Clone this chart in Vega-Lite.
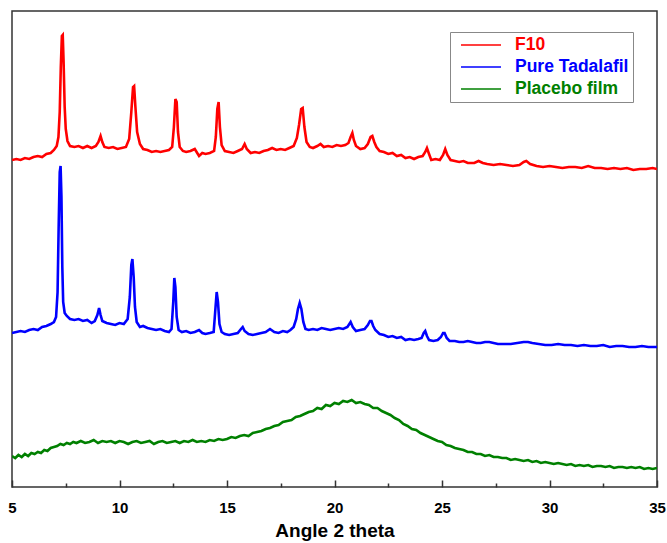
{
  "$schema": "https://vega.github.io/schema/vega-lite/v6.json",
  "width": 645,
  "height": 476,
  "autosize": {"type": "none"},
  "padding": {"left": 12, "top": 11, "right": 10, "bottom": 56},
  "background": "white",
  "config": {
    "view": {"stroke": "#333333", "strokeWidth": 1.5},
    "font": "Liberation Sans"
  },
  "data": {
    "values": [
      {"s":"F10","x":5.0,"y":327},{"s":"F10","x":5.2,"y":328},{"s":"F10","x":5.4,"y":327},{"s":"F10","x":5.6,"y":329},{"s":"F10","x":5.8,"y":328},{"s":"F10","x":6.0,"y":330},{"s":"F10","x":6.2,"y":331},{"s":"F10","x":6.4,"y":330},{"s":"F10","x":6.6,"y":333},{"s":"F10","x":6.8,"y":334},{"s":"F10","x":6.95,"y":337},{"s":"F10","x":7.08,"y":341},{"s":"F10","x":7.16,"y":350},{"s":"F10","x":7.22,"y":375},{"s":"F10","x":7.27,"y":420},{"s":"F10","x":7.32,"y":451},{"s":"F10","x":7.36,"y":452},{"s":"F10","x":7.4,"y":425},{"s":"F10","x":7.45,"y":380},{"s":"F10","x":7.5,"y":358},{"s":"F10","x":7.58,"y":346},{"s":"F10","x":7.7,"y":341},{"s":"F10","x":7.9,"y":340},{"s":"F10","x":8.1,"y":341},{"s":"F10","x":8.3,"y":339},{"s":"F10","x":8.5,"y":341},{"s":"F10","x":8.7,"y":339},{"s":"F10","x":8.9,"y":341},{"s":"F10","x":9.02,"y":345},{"s":"F10","x":9.12,"y":351},{"s":"F10","x":9.2,"y":345},{"s":"F10","x":9.3,"y":340},{"s":"F10","x":9.5,"y":339},{"s":"F10","x":9.7,"y":340},{"s":"F10","x":9.9,"y":338},{"s":"F10","x":10.1,"y":339},{"s":"F10","x":10.3,"y":340},{"s":"F10","x":10.45,"y":348},{"s":"F10","x":10.55,"y":375},{"s":"F10","x":10.63,"y":400},{"s":"F10","x":10.68,"y":401},{"s":"F10","x":10.74,"y":380},{"s":"F10","x":10.82,"y":355},{"s":"F10","x":10.95,"y":343},{"s":"F10","x":11.1,"y":338},{"s":"F10","x":11.3,"y":337},{"s":"F10","x":11.5,"y":335},{"s":"F10","x":11.7,"y":336},{"s":"F10","x":11.9,"y":335},{"s":"F10","x":12.1,"y":336},{"s":"F10","x":12.3,"y":337},{"s":"F10","x":12.45,"y":340},{"s":"F10","x":12.53,"y":360},{"s":"F10","x":12.6,"y":388},{"s":"F10","x":12.66,"y":385},{"s":"F10","x":12.72,"y":355},{"s":"F10","x":12.8,"y":340},{"s":"F10","x":12.95,"y":336},{"s":"F10","x":13.1,"y":335},{"s":"F10","x":13.3,"y":336},{"s":"F10","x":13.5,"y":338},{"s":"F10","x":13.7,"y":331},{"s":"F10","x":13.85,"y":334},{"s":"F10","x":14.0,"y":333},{"s":"F10","x":14.2,"y":334},{"s":"F10","x":14.4,"y":336},{"s":"F10","x":14.48,"y":350},{"s":"F10","x":14.55,"y":378},{"s":"F10","x":14.61,"y":385},{"s":"F10","x":14.67,"y":360},{"s":"F10","x":14.75,"y":342},{"s":"F10","x":14.9,"y":336},{"s":"F10","x":15.1,"y":335},{"s":"F10","x":15.3,"y":334},{"s":"F10","x":15.5,"y":336},{"s":"F10","x":15.7,"y":338},{"s":"F10","x":15.82,"y":343},{"s":"F10","x":15.92,"y":338},{"s":"F10","x":16.1,"y":334},{"s":"F10","x":16.3,"y":335},{"s":"F10","x":16.5,"y":334},{"s":"F10","x":16.7,"y":336},{"s":"F10","x":16.9,"y":337},{"s":"F10","x":17.1,"y":339},{"s":"F10","x":17.3,"y":337},{"s":"F10","x":17.5,"y":338},{"s":"F10","x":17.7,"y":337},{"s":"F10","x":17.9,"y":339},{"s":"F10","x":18.1,"y":341},{"s":"F10","x":18.25,"y":349},{"s":"F10","x":18.35,"y":362},{"s":"F10","x":18.45,"y":378},{"s":"F10","x":18.52,"y":379},{"s":"F10","x":18.6,"y":360},{"s":"F10","x":18.7,"y":345},{"s":"F10","x":18.85,"y":340},{"s":"F10","x":19.0,"y":339},{"s":"F10","x":19.2,"y":341},{"s":"F10","x":19.35,"y":343},{"s":"F10","x":19.5,"y":340},{"s":"F10","x":19.7,"y":341},{"s":"F10","x":19.9,"y":340},{"s":"F10","x":20.1,"y":342},{"s":"F10","x":20.3,"y":341},{"s":"F10","x":20.5,"y":342},{"s":"F10","x":20.65,"y":344},{"s":"F10","x":20.75,"y":350},{"s":"F10","x":20.83,"y":354},{"s":"F10","x":20.9,"y":347},{"s":"F10","x":21.0,"y":341},{"s":"F10","x":21.2,"y":338},{"s":"F10","x":21.4,"y":339},{"s":"F10","x":21.55,"y":343},{"s":"F10","x":21.68,"y":350},{"s":"F10","x":21.76,"y":351},{"s":"F10","x":21.85,"y":345},{"s":"F10","x":21.95,"y":340},{"s":"F10","x":22.1,"y":336},{"s":"F10","x":22.3,"y":335},{"s":"F10","x":22.5,"y":333},{"s":"F10","x":22.7,"y":334},{"s":"F10","x":22.9,"y":331},{"s":"F10","x":23.1,"y":332},{"s":"F10","x":23.3,"y":329},{"s":"F10","x":23.5,"y":330},{"s":"F10","x":23.7,"y":328},{"s":"F10","x":23.9,"y":330},{"s":"F10","x":24.1,"y":331},{"s":"F10","x":24.22,"y":335},{"s":"F10","x":24.3,"y":339},{"s":"F10","x":24.38,"y":334},{"s":"F10","x":24.5,"y":327},{"s":"F10","x":24.7,"y":328},{"s":"F10","x":24.9,"y":327},{"s":"F10","x":25.05,"y":332},{"s":"F10","x":25.15,"y":338},{"s":"F10","x":25.25,"y":332},{"s":"F10","x":25.4,"y":327},{"s":"F10","x":25.6,"y":326},{"s":"F10","x":25.8,"y":325},{"s":"F10","x":26.0,"y":326},{"s":"F10","x":26.2,"y":324},{"s":"F10","x":26.5,"y":324},{"s":"F10","x":26.7,"y":326},{"s":"F10","x":26.9,"y":324},{"s":"F10","x":27.1,"y":323},{"s":"F10","x":27.4,"y":322},{"s":"F10","x":27.7,"y":323},{"s":"F10","x":28.0,"y":322},{"s":"F10","x":28.3,"y":321},{"s":"F10","x":28.6,"y":322},{"s":"F10","x":28.8,"y":325},{"s":"F10","x":28.92,"y":326},{"s":"F10","x":29.1,"y":323},{"s":"F10","x":29.4,"y":321},{"s":"F10","x":29.7,"y":320},{"s":"F10","x":30.0,"y":321},{"s":"F10","x":30.3,"y":320},{"s":"F10","x":30.6,"y":319},{"s":"F10","x":30.9,"y":320},{"s":"F10","x":31.2,"y":320},{"s":"F10","x":31.5,"y":319},{"s":"F10","x":31.8,"y":321},{"s":"F10","x":32.1,"y":319},{"s":"F10","x":32.4,"y":319},{"s":"F10","x":32.7,"y":318},{"s":"F10","x":33.0,"y":319},{"s":"F10","x":33.3,"y":318},{"s":"F10","x":33.6,"y":319},{"s":"F10","x":33.9,"y":317},{"s":"F10","x":34.2,"y":318},{"s":"F10","x":34.5,"y":318},{"s":"F10","x":34.8,"y":319},{"s":"F10","x":35.0,"y":318},

      {"s":"Pure Tadalafil","x":5.0,"y":154},{"s":"Pure Tadalafil","x":5.2,"y":155},{"s":"Pure Tadalafil","x":5.4,"y":156},{"s":"Pure Tadalafil","x":5.6,"y":155},{"s":"Pure Tadalafil","x":5.8,"y":157},{"s":"Pure Tadalafil","x":6.0,"y":158},{"s":"Pure Tadalafil","x":6.2,"y":157},{"s":"Pure Tadalafil","x":6.4,"y":160},{"s":"Pure Tadalafil","x":6.6,"y":161},{"s":"Pure Tadalafil","x":6.8,"y":163},{"s":"Pure Tadalafil","x":6.95,"y":165},{"s":"Pure Tadalafil","x":7.05,"y":170},{"s":"Pure Tadalafil","x":7.12,"y":195},{"s":"Pure Tadalafil","x":7.17,"y":260},{"s":"Pure Tadalafil","x":7.22,"y":315},{"s":"Pure Tadalafil","x":7.26,"y":321},{"s":"Pure Tadalafil","x":7.3,"y":290},{"s":"Pure Tadalafil","x":7.34,"y":220},{"s":"Pure Tadalafil","x":7.38,"y":185},{"s":"Pure Tadalafil","x":7.45,"y":174},{"s":"Pure Tadalafil","x":7.55,"y":171},{"s":"Pure Tadalafil","x":7.7,"y":168},{"s":"Pure Tadalafil","x":7.9,"y":167},{"s":"Pure Tadalafil","x":8.1,"y":168},{"s":"Pure Tadalafil","x":8.3,"y":166},{"s":"Pure Tadalafil","x":8.5,"y":167},{"s":"Pure Tadalafil","x":8.7,"y":164},{"s":"Pure Tadalafil","x":8.85,"y":166},{"s":"Pure Tadalafil","x":8.97,"y":172},{"s":"Pure Tadalafil","x":9.05,"y":179},{"s":"Pure Tadalafil","x":9.12,"y":172},{"s":"Pure Tadalafil","x":9.2,"y":166},{"s":"Pure Tadalafil","x":9.4,"y":164},{"s":"Pure Tadalafil","x":9.6,"y":163},{"s":"Pure Tadalafil","x":9.8,"y":162},{"s":"Pure Tadalafil","x":10.0,"y":164},{"s":"Pure Tadalafil","x":10.2,"y":163},{"s":"Pure Tadalafil","x":10.38,"y":168},{"s":"Pure Tadalafil","x":10.48,"y":190},{"s":"Pure Tadalafil","x":10.55,"y":222},{"s":"Pure Tadalafil","x":10.6,"y":228},{"s":"Pure Tadalafil","x":10.66,"y":210},{"s":"Pure Tadalafil","x":10.72,"y":180},{"s":"Pure Tadalafil","x":10.8,"y":165},{"s":"Pure Tadalafil","x":10.95,"y":160},{"s":"Pure Tadalafil","x":11.1,"y":161},{"s":"Pure Tadalafil","x":11.3,"y":159},{"s":"Pure Tadalafil","x":11.5,"y":158},{"s":"Pure Tadalafil","x":11.7,"y":157},{"s":"Pure Tadalafil","x":11.9,"y":158},{"s":"Pure Tadalafil","x":12.1,"y":156},{"s":"Pure Tadalafil","x":12.3,"y":155},{"s":"Pure Tadalafil","x":12.42,"y":158},{"s":"Pure Tadalafil","x":12.5,"y":185},{"s":"Pure Tadalafil","x":12.55,"y":209},{"s":"Pure Tadalafil","x":12.6,"y":200},{"s":"Pure Tadalafil","x":12.66,"y":170},{"s":"Pure Tadalafil","x":12.75,"y":157},{"s":"Pure Tadalafil","x":12.9,"y":155},{"s":"Pure Tadalafil","x":13.1,"y":156},{"s":"Pure Tadalafil","x":13.3,"y":154},{"s":"Pure Tadalafil","x":13.5,"y":155},{"s":"Pure Tadalafil","x":13.7,"y":157},{"s":"Pure Tadalafil","x":13.85,"y":154},{"s":"Pure Tadalafil","x":14.0,"y":153},{"s":"Pure Tadalafil","x":14.2,"y":154},{"s":"Pure Tadalafil","x":14.38,"y":155},{"s":"Pure Tadalafil","x":14.45,"y":175},{"s":"Pure Tadalafil","x":14.52,"y":195},{"s":"Pure Tadalafil","x":14.58,"y":185},{"s":"Pure Tadalafil","x":14.65,"y":163},{"s":"Pure Tadalafil","x":14.75,"y":155},{"s":"Pure Tadalafil","x":14.9,"y":153},{"s":"Pure Tadalafil","x":15.1,"y":152},{"s":"Pure Tadalafil","x":15.3,"y":153},{"s":"Pure Tadalafil","x":15.5,"y":154},{"s":"Pure Tadalafil","x":15.65,"y":158},{"s":"Pure Tadalafil","x":15.73,"y":160},{"s":"Pure Tadalafil","x":15.82,"y":156},{"s":"Pure Tadalafil","x":16.0,"y":153},{"s":"Pure Tadalafil","x":16.2,"y":152},{"s":"Pure Tadalafil","x":16.4,"y":153},{"s":"Pure Tadalafil","x":16.6,"y":154},{"s":"Pure Tadalafil","x":16.8,"y":155},{"s":"Pure Tadalafil","x":17.0,"y":158},{"s":"Pure Tadalafil","x":17.2,"y":155},{"s":"Pure Tadalafil","x":17.4,"y":154},{"s":"Pure Tadalafil","x":17.6,"y":156},{"s":"Pure Tadalafil","x":17.8,"y":155},{"s":"Pure Tadalafil","x":17.95,"y":157},{"s":"Pure Tadalafil","x":18.1,"y":160},{"s":"Pure Tadalafil","x":18.22,"y":168},{"s":"Pure Tadalafil","x":18.3,"y":178},{"s":"Pure Tadalafil","x":18.38,"y":184},{"s":"Pure Tadalafil","x":18.46,"y":178},{"s":"Pure Tadalafil","x":18.55,"y":165},{"s":"Pure Tadalafil","x":18.65,"y":158},{"s":"Pure Tadalafil","x":18.8,"y":157},{"s":"Pure Tadalafil","x":19.0,"y":158},{"s":"Pure Tadalafil","x":19.2,"y":157},{"s":"Pure Tadalafil","x":19.4,"y":159},{"s":"Pure Tadalafil","x":19.6,"y":158},{"s":"Pure Tadalafil","x":19.8,"y":157},{"s":"Pure Tadalafil","x":20.0,"y":158},{"s":"Pure Tadalafil","x":20.2,"y":159},{"s":"Pure Tadalafil","x":20.4,"y":158},{"s":"Pure Tadalafil","x":20.6,"y":160},{"s":"Pure Tadalafil","x":20.75,"y":165},{"s":"Pure Tadalafil","x":20.85,"y":160},{"s":"Pure Tadalafil","x":21.0,"y":156},{"s":"Pure Tadalafil","x":21.2,"y":157},{"s":"Pure Tadalafil","x":21.4,"y":158},{"s":"Pure Tadalafil","x":21.55,"y":162},{"s":"Pure Tadalafil","x":21.65,"y":166},{"s":"Pure Tadalafil","x":21.72,"y":166},{"s":"Pure Tadalafil","x":21.8,"y":161},{"s":"Pure Tadalafil","x":21.9,"y":157},{"s":"Pure Tadalafil","x":22.1,"y":153},{"s":"Pure Tadalafil","x":22.3,"y":152},{"s":"Pure Tadalafil","x":22.5,"y":150},{"s":"Pure Tadalafil","x":22.7,"y":151},{"s":"Pure Tadalafil","x":22.9,"y":149},{"s":"Pure Tadalafil","x":23.1,"y":150},{"s":"Pure Tadalafil","x":23.3,"y":147},{"s":"Pure Tadalafil","x":23.5,"y":148},{"s":"Pure Tadalafil","x":23.7,"y":147},{"s":"Pure Tadalafil","x":23.9,"y":148},{"s":"Pure Tadalafil","x":24.05,"y":149},{"s":"Pure Tadalafil","x":24.15,"y":154},{"s":"Pure Tadalafil","x":24.22,"y":156},{"s":"Pure Tadalafil","x":24.3,"y":151},{"s":"Pure Tadalafil","x":24.4,"y":147},{"s":"Pure Tadalafil","x":24.6,"y":146},{"s":"Pure Tadalafil","x":24.8,"y":147},{"s":"Pure Tadalafil","x":24.95,"y":150},{"s":"Pure Tadalafil","x":25.05,"y":154},{"s":"Pure Tadalafil","x":25.12,"y":154},{"s":"Pure Tadalafil","x":25.22,"y":149},{"s":"Pure Tadalafil","x":25.35,"y":146},{"s":"Pure Tadalafil","x":25.6,"y":146},{"s":"Pure Tadalafil","x":25.8,"y":145},{"s":"Pure Tadalafil","x":26.0,"y":145},{"s":"Pure Tadalafil","x":26.2,"y":146},{"s":"Pure Tadalafil","x":26.4,"y":145},{"s":"Pure Tadalafil","x":26.6,"y":144},{"s":"Pure Tadalafil","x":26.8,"y":144},{"s":"Pure Tadalafil","x":27.0,"y":145},{"s":"Pure Tadalafil","x":27.2,"y":145},{"s":"Pure Tadalafil","x":27.4,"y":144},{"s":"Pure Tadalafil","x":27.6,"y":143},{"s":"Pure Tadalafil","x":27.9,"y":143},{"s":"Pure Tadalafil","x":28.2,"y":143},{"s":"Pure Tadalafil","x":28.5,"y":144},{"s":"Pure Tadalafil","x":28.8,"y":145},{"s":"Pure Tadalafil","x":29.0,"y":145},{"s":"Pure Tadalafil","x":29.2,"y":144},{"s":"Pure Tadalafil","x":29.5,"y":143},{"s":"Pure Tadalafil","x":29.8,"y":142},{"s":"Pure Tadalafil","x":30.1,"y":142},{"s":"Pure Tadalafil","x":30.4,"y":143},{"s":"Pure Tadalafil","x":30.7,"y":142},{"s":"Pure Tadalafil","x":31.0,"y":142},{"s":"Pure Tadalafil","x":31.3,"y":141},{"s":"Pure Tadalafil","x":31.6,"y":142},{"s":"Pure Tadalafil","x":31.9,"y":141},{"s":"Pure Tadalafil","x":32.2,"y":141},{"s":"Pure Tadalafil","x":32.5,"y":142},{"s":"Pure Tadalafil","x":32.8,"y":140},{"s":"Pure Tadalafil","x":33.1,"y":141},{"s":"Pure Tadalafil","x":33.4,"y":141},{"s":"Pure Tadalafil","x":33.7,"y":140},{"s":"Pure Tadalafil","x":34.0,"y":140},{"s":"Pure Tadalafil","x":34.3,"y":141},{"s":"Pure Tadalafil","x":34.6,"y":140},{"s":"Pure Tadalafil","x":35.0,"y":140},

      {"s":"Placebo film","x":5.0,"y":31},{"s":"Placebo film","x":5.15,"y":29},{"s":"Placebo film","x":5.3,"y":32},{"s":"Placebo film","x":5.45,"y":30},{"s":"Placebo film","x":5.6,"y":33},{"s":"Placebo film","x":5.75,"y":31},{"s":"Placebo film","x":5.9,"y":34},{"s":"Placebo film","x":6.05,"y":33},{"s":"Placebo film","x":6.2,"y":35},{"s":"Placebo film","x":6.35,"y":34},{"s":"Placebo film","x":6.5,"y":37},{"s":"Placebo film","x":6.65,"y":36},{"s":"Placebo film","x":6.8,"y":39},{"s":"Placebo film","x":6.95,"y":40},{"s":"Placebo film","x":7.1,"y":41},{"s":"Placebo film","x":7.25,"y":43},{"s":"Placebo film","x":7.4,"y":42},{"s":"Placebo film","x":7.55,"y":44},{"s":"Placebo film","x":7.7,"y":43},{"s":"Placebo film","x":7.85,"y":45},{"s":"Placebo film","x":8.0,"y":44},{"s":"Placebo film","x":8.2,"y":46},{"s":"Placebo film","x":8.4,"y":44},{"s":"Placebo film","x":8.6,"y":45},{"s":"Placebo film","x":8.8,"y":47},{"s":"Placebo film","x":9.0,"y":44},{"s":"Placebo film","x":9.2,"y":46},{"s":"Placebo film","x":9.4,"y":45},{"s":"Placebo film","x":9.6,"y":46},{"s":"Placebo film","x":9.8,"y":44},{"s":"Placebo film","x":10.0,"y":46},{"s":"Placebo film","x":10.2,"y":45},{"s":"Placebo film","x":10.4,"y":43},{"s":"Placebo film","x":10.6,"y":45},{"s":"Placebo film","x":10.8,"y":46},{"s":"Placebo film","x":11.0,"y":44},{"s":"Placebo film","x":11.2,"y":45},{"s":"Placebo film","x":11.4,"y":46},{"s":"Placebo film","x":11.6,"y":43},{"s":"Placebo film","x":11.8,"y":45},{"s":"Placebo film","x":12.0,"y":46},{"s":"Placebo film","x":12.2,"y":44},{"s":"Placebo film","x":12.4,"y":45},{"s":"Placebo film","x":12.6,"y":46},{"s":"Placebo film","x":12.8,"y":44},{"s":"Placebo film","x":13.0,"y":46},{"s":"Placebo film","x":13.2,"y":45},{"s":"Placebo film","x":13.4,"y":47},{"s":"Placebo film","x":13.6,"y":45},{"s":"Placebo film","x":13.8,"y":46},{"s":"Placebo film","x":14.0,"y":45},{"s":"Placebo film","x":14.2,"y":47},{"s":"Placebo film","x":14.4,"y":46},{"s":"Placebo film","x":14.6,"y":48},{"s":"Placebo film","x":14.8,"y":47},{"s":"Placebo film","x":15.0,"y":48},{"s":"Placebo film","x":15.2,"y":50},{"s":"Placebo film","x":15.4,"y":49},{"s":"Placebo film","x":15.6,"y":51},{"s":"Placebo film","x":15.8,"y":52},{"s":"Placebo film","x":16.0,"y":51},{"s":"Placebo film","x":16.2,"y":54},{"s":"Placebo film","x":16.4,"y":55},{"s":"Placebo film","x":16.6,"y":56},{"s":"Placebo film","x":16.8,"y":58},{"s":"Placebo film","x":17.0,"y":59},{"s":"Placebo film","x":17.2,"y":61},{"s":"Placebo film","x":17.4,"y":62},{"s":"Placebo film","x":17.6,"y":65},{"s":"Placebo film","x":17.8,"y":66},{"s":"Placebo film","x":18.0,"y":67},{"s":"Placebo film","x":18.2,"y":70},{"s":"Placebo film","x":18.4,"y":71},{"s":"Placebo film","x":18.6,"y":73},{"s":"Placebo film","x":18.8,"y":75},{"s":"Placebo film","x":19.0,"y":76},{"s":"Placebo film","x":19.2,"y":79},{"s":"Placebo film","x":19.4,"y":78},{"s":"Placebo film","x":19.6,"y":82},{"s":"Placebo film","x":19.8,"y":81},{"s":"Placebo film","x":20.0,"y":84},{"s":"Placebo film","x":20.2,"y":83},{"s":"Placebo film","x":20.4,"y":86},{"s":"Placebo film","x":20.6,"y":85},{"s":"Placebo film","x":20.8,"y":87},{"s":"Placebo film","x":21.0,"y":84},{"s":"Placebo film","x":21.2,"y":85},{"s":"Placebo film","x":21.4,"y":83},{"s":"Placebo film","x":21.6,"y":82},{"s":"Placebo film","x":21.8,"y":79},{"s":"Placebo film","x":22.0,"y":79},{"s":"Placebo film","x":22.2,"y":76},{"s":"Placebo film","x":22.4,"y":74},{"s":"Placebo film","x":22.6,"y":72},{"s":"Placebo film","x":22.8,"y":69},{"s":"Placebo film","x":23.0,"y":67},{"s":"Placebo film","x":23.2,"y":63},{"s":"Placebo film","x":23.4,"y":61},{"s":"Placebo film","x":23.6,"y":58},{"s":"Placebo film","x":23.8,"y":57},{"s":"Placebo film","x":24.0,"y":54},{"s":"Placebo film","x":24.2,"y":52},{"s":"Placebo film","x":24.4,"y":50},{"s":"Placebo film","x":24.6,"y":48},{"s":"Placebo film","x":24.8,"y":46},{"s":"Placebo film","x":25.0,"y":45},{"s":"Placebo film","x":25.2,"y":42},{"s":"Placebo film","x":25.4,"y":41},{"s":"Placebo film","x":25.6,"y":39},{"s":"Placebo film","x":25.8,"y":38},{"s":"Placebo film","x":26.0,"y":37},{"s":"Placebo film","x":26.2,"y":35},{"s":"Placebo film","x":26.4,"y":35},{"s":"Placebo film","x":26.6,"y":33},{"s":"Placebo film","x":26.8,"y":33},{"s":"Placebo film","x":27.0,"y":31},{"s":"Placebo film","x":27.2,"y":32},{"s":"Placebo film","x":27.4,"y":30},{"s":"Placebo film","x":27.6,"y":30},{"s":"Placebo film","x":27.8,"y":29},{"s":"Placebo film","x":28.0,"y":29},{"s":"Placebo film","x":28.2,"y":27},{"s":"Placebo film","x":28.4,"y":28},{"s":"Placebo film","x":28.6,"y":27},{"s":"Placebo film","x":28.8,"y":26},{"s":"Placebo film","x":29.0,"y":27},{"s":"Placebo film","x":29.2,"y":25},{"s":"Placebo film","x":29.4,"y":26},{"s":"Placebo film","x":29.6,"y":24},{"s":"Placebo film","x":29.8,"y":25},{"s":"Placebo film","x":30.0,"y":24},{"s":"Placebo film","x":30.2,"y":23},{"s":"Placebo film","x":30.4,"y":24},{"s":"Placebo film","x":30.6,"y":23},{"s":"Placebo film","x":30.8,"y":22},{"s":"Placebo film","x":31.0,"y":23},{"s":"Placebo film","x":31.2,"y":21},{"s":"Placebo film","x":31.4,"y":22},{"s":"Placebo film","x":31.6,"y":21},{"s":"Placebo film","x":31.8,"y":22},{"s":"Placebo film","x":32.0,"y":20},{"s":"Placebo film","x":32.2,"y":21},{"s":"Placebo film","x":32.4,"y":21},{"s":"Placebo film","x":32.6,"y":20},{"s":"Placebo film","x":32.8,"y":21},{"s":"Placebo film","x":33.0,"y":19},{"s":"Placebo film","x":33.2,"y":20},{"s":"Placebo film","x":33.4,"y":20},{"s":"Placebo film","x":33.6,"y":19},{"s":"Placebo film","x":33.8,"y":20},{"s":"Placebo film","x":34.0,"y":19},{"s":"Placebo film","x":34.2,"y":20},{"s":"Placebo film","x":34.4,"y":18},{"s":"Placebo film","x":34.6,"y":19},{"s":"Placebo film","x":34.8,"y":18},{"s":"Placebo film","x":35.0,"y":19}
    ]
  },
  "mark": {"type": "line", "strokeWidth": 2.6, "clip": true},
  "encoding": {
    "x": {
      "field": "x",
      "type": "quantitative",
      "scale": {"domain": [5, 35], "nice": false, "zero": false},
      "axis": {
        "title": "Angle 2 theta",
        "values": [5, 7.5, 10, 12.5, 15, 17.5, 20, 22.5, 25, 27.5, 30, 32.5, 35],
        "labelExpr": "datum.value % 5 == 0 ? datum.label : ''",
        "labelOverlap": false,
        "labelFlush": false,
        "grid": false,
        "domain": false,
        "ticks": true,
        "tickColor": "#333333",
        "tickWidth": 1.5,
        "tickSize": {"expr": "datum.value % 5 == 0 ? -7 : -4"},
        "labelPadding": 20,
        "labelFont": "Liberation Sans",
        "labelFontSize": 15,
        "labelFontWeight": "bold",
        "labelColor": "black",
        "titleFont": "Liberation Sans",
        "titleFontSize": 19,
        "titleFontWeight": "bold",
        "titleColor": "black",
        "titlePadding": 3
      }
    },
    "y": {
      "field": "y",
      "type": "quantitative",
      "scale": {"domain": [0, 476], "nice": false, "zero": false},
      "axis": null
    },
    "color": {
      "field": "s",
      "type": "nominal",
      "sort": ["F10", "Pure Tadalafil", "Placebo film"],
      "scale": {"domain": ["F10", "Pure Tadalafil", "Placebo film"], "range": ["#ff0000", "#0000ff", "#008000"]},
      "legend": {
        "title": null,
        "orient": "none",
        "legendX": 438,
        "legendY": 21,
        "symbolType": "M-0.25,0H4.75",
        "symbolSize": 256,
        "symbolStrokeWidth": 1.5,
        "labelFont": "Liberation Sans",
        "labelFontSize": 17.5,
        "labelFontWeight": "bold",
        "labelOffset": 43,
        "labelColor": {"expr": "datum.value == 'F10' ? '#ff0000' : datum.value == 'Pure Tadalafil' ? '#0000ff' : '#008000'"},
        "padding": 4,
        "rowPadding": 4,
        "strokeColor": "#888888",
        "fillColor": "white"
      }
    }
  }
}
